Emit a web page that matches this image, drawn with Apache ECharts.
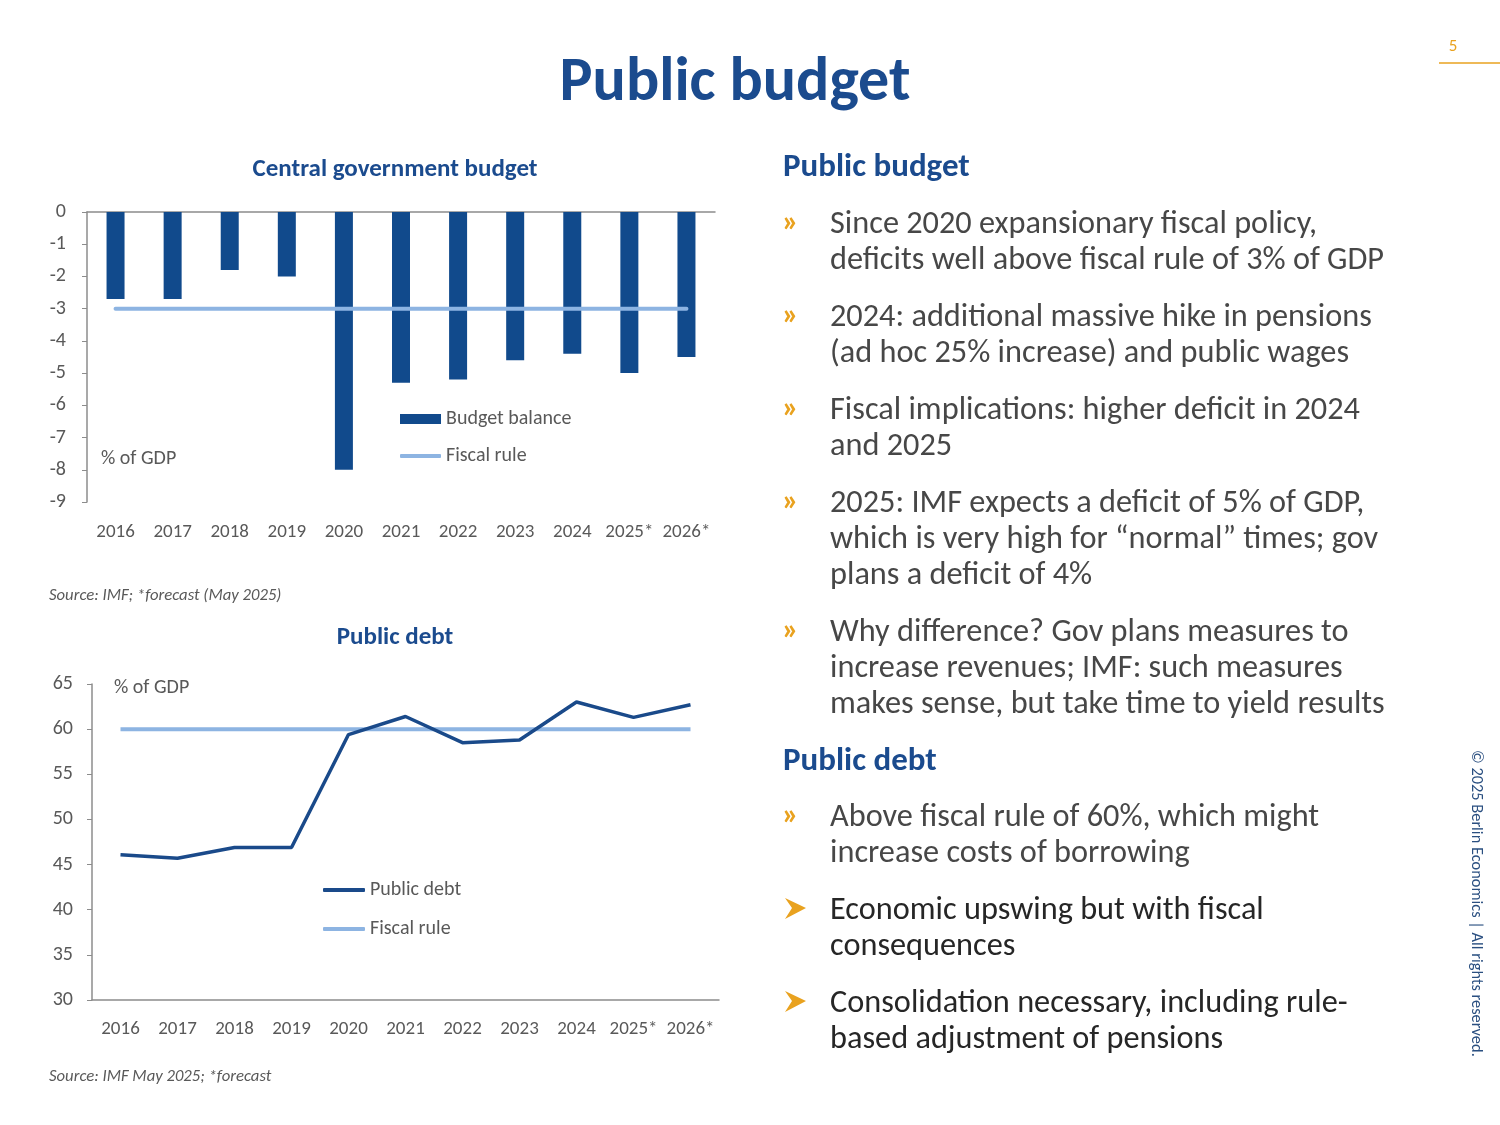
<!DOCTYPE html>
<html>
<head>
<meta charset="utf-8">
<script src="https://cdn.jsdelivr.net/npm/echarts@6/dist/echarts.min.js"></script>
<style>
html,body{margin:0;padding:0;background:#fff;}
#c{width:1500px;height:1125px;}
</style>
</head>
<body>
<div id="c"></div>
<script>
// ---- data ----
var years = ['2016','2017','2018','2019','2020','2021','2022','2023','2024','2025*','2026*'];
var budgetBalance = [-2.7,-2.7,-1.8,-2.0,-8.0,-5.3,-5.2,-4.6,-4.4,-5.0,-4.5];
var budgetRule = [-3,-3,-3,-3,-3,-3,-3,-3,-3,-3,-3];
var publicDebt = [46.1,45.7,46.9,46.9,59.4,61.4,58.5,58.8,63.0,61.3,62.7];
var debtRule = [60,60,60,60,60,60,60,60,60,60,60];

var FONT = 'Carlito, Lato, "Open Sans", sans-serif';
var BLUE = '#1b4b8e';
var BAR = '#114a8c';
var LIGHT = '#8db4e2';
var ORANGE = '#e9a21f';
var AXISTXT = '#595959';

var bullets = [
  {y:225, text:'Since 2020 expansionary fiscal policy,\ndeficits well above fiscal rule of 3% of GDP'},
  {y:318, text:'2024: additional massive hike in pensions\n(ad hoc 25% increase) and public wages'},
  {y:411, text:'Fiscal implications: higher deficit in 2024\nand 2025'},
  {y:504, text:'2025: IMF expects a deficit of 5% of GDP,\nwhich is very high for \u201cnormal\u201d times; gov\nplans a deficit of 4%'},
  {y:633, text:'Why difference? Gov plans measures to\nincrease revenues; IMF: such measures\nmakes sense, but take time to yield results'},
  {y:818, text:'Above fiscal rule of 60%, which might\nincrease costs of borrowing'}
];
var keyPoints = [
  {y:911, text:'Economic upswing but with fiscal\nconsequences'},
  {y:1004, text:'Consolidation necessary, including rule-\nbased adjustment of pensions'}
];

var graphics = [
  {type:'text', style:{text:'Public budget', x:735, y:84, fontSize:62, fontWeight:'bold', fontFamily:FONT, fill:BLUE, align:'center', verticalAlign:'middle'}},
  {type:'text', style:{text:'5', x:1453, y:47, fontSize:17, fontFamily:FONT, fill:ORANGE, align:'center', verticalAlign:'middle'}},
  {type:'line', shape:{x1:1439, y1:63, x2:1500, y2:63}, style:{stroke:ORANGE, lineWidth:1.5}},
  {type:'text', rotation:-Math.PI/2, x:1476, y:750, style:{text:'\u00a9 2025 Berlin Economics | All rights reserved.', x:0, y:0, fontSize:16.4, fontFamily:FONT, fill:'#2a4f80', align:'left', verticalAlign:'middle'}},
  {type:'text', style:{text:'Central government budget', x:395, y:170, fontSize:25, fontWeight:'bold', fontFamily:FONT, fill:BLUE, align:'center', verticalAlign:'middle'}},
  {type:'text', style:{text:'Public debt', x:395, y:638, fontSize:25, fontWeight:'bold', fontFamily:FONT, fill:BLUE, align:'center', verticalAlign:'middle'}},
  {type:'text', style:{text:'Source: IMF; *forecast (May 2025)', x:49, y:596, fontSize:16.7, fontStyle:'italic', fontFamily:FONT, fill:AXISTXT, align:'left', verticalAlign:'middle'}},
  {type:'text', style:{text:'Source: IMF May 2025; *forecast', x:49, y:1077, fontSize:16.7, fontStyle:'italic', fontFamily:FONT, fill:AXISTXT, align:'left', verticalAlign:'middle'}},
  {type:'text', style:{text:'% of GDP', x:101, y:459, fontSize:20, fontFamily:FONT, fill:AXISTXT, align:'left', verticalAlign:'middle'}},
  {type:'text', style:{text:'% of GDP', x:114, y:688, fontSize:20, fontFamily:FONT, fill:AXISTXT, align:'left', verticalAlign:'middle'}},
  {type:'text', style:{text:'Public budget', x:783, y:168, fontSize:33, fontWeight:'bold', fontFamily:FONT, fill:BLUE, align:'left', verticalAlign:'middle'}},
  {type:'text', style:{text:'Public debt', x:783, y:762, fontSize:33, fontWeight:'bold', fontFamily:FONT, fill:BLUE, align:'left', verticalAlign:'middle'}}
];
bullets.forEach(function(b){
  graphics.push({type:'text', style:{text:'\u00bb', x:782, y:b.y - 2, fontSize:31, fontWeight:'bold', fontFamily:FONT, fill:ORANGE, align:'left', verticalAlign:'middle'}});
  graphics.push({type:'text', style:{text:b.text, x:830, y:b.y - 18, fontSize:32.3, fontWeight:300, fontFamily:FONT, fill:'#474747', align:'left', verticalAlign:'top', lineHeight:36}});
});
keyPoints.forEach(function(b){
  graphics.push({type:'polygon', shape:{points:[[785,b.y-13],[806,b.y-3],[785,b.y+8],[792,b.y-3]]}, style:{fill:ORANGE}});
  graphics.push({type:'text', style:{text:b.text, x:830, y:b.y - 18, fontSize:32.3, fontFamily:FONT, fill:'#262626', align:'left', verticalAlign:'top', lineHeight:36}});
});

var axisLabel = {color:AXISTXT, fontSize:20, fontFamily:FONT};
var catLabel = {color:AXISTXT, fontSize:19, fontFamily:FONT, interval:0, hideOverlap:false};
var legendText = {color:AXISTXT, fontSize:20, fontFamily:FONT, lineHeight:20};
var option = {
  animation:false,
  backgroundColor:'#ffffff',
  graphic: graphics,
  grid:[
    {left:87, width:628, top:212, height:290},
    {left:92, width:627, top:684, height:316}
  ],
  legend:[
    {orient:'vertical', left:400, top:409, padding:0, itemWidth:41, itemHeight:10,
     data:[{name:'Budget balance', icon:'rect'}],
     textStyle:legendText, selectedMode:false},
    {orient:'vertical', left:400, top:446, padding:0, itemWidth:41, itemHeight:4,
     data:[{name:'Fiscal rule', icon:'roundRect'}],
     textStyle:legendText, selectedMode:false},
    {orient:'vertical', left:323, top:880, padding:0, itemWidth:42, itemHeight:4, itemGap:19,
     data:[{name:'Public debt', icon:'roundRect'}, {name:'Fiscal rule ', icon:'roundRect'}],
     textStyle:legendText, selectedMode:false}
  ],
  xAxis:[
    {type:'category', gridIndex:0, data:years, position:'bottom',
     axisLine:{show:false}, axisTick:{show:false}, axisLabel:Object.assign({margin:21}, catLabel)},
    {type:'category', gridIndex:0, data:years, position:'top',
     axisLine:{show:true, onZero:false, lineStyle:{color:'#8c8c8c', width:1.5}}, axisTick:{show:false}, axisLabel:{show:false}},
    {type:'category', gridIndex:1, data:years, position:'bottom',
     axisLine:{show:true, lineStyle:{color:'#8c8c8c', width:1.5}}, axisTick:{show:false}, axisLabel:Object.assign({margin:20}, catLabel)}
  ],
  yAxis:[
    {type:'value', gridIndex:0, min:-9, max:0, interval:1,
     axisLine:{show:true, lineStyle:{color:'#8c8c8c', width:1.5}}, axisTick:{show:true, length:5, lineStyle:{color:'#8c8c8c'}},
     splitLine:{show:false}, axisLabel:Object.assign({margin:21}, axisLabel)},
    {type:'value', gridIndex:1, min:30, max:65, interval:5,
     axisLine:{show:true, lineStyle:{color:'#8c8c8c', width:1.5}}, axisTick:{show:true, length:5, lineStyle:{color:'#8c8c8c'}},
     splitLine:{show:false}, axisLabel:Object.assign({margin:19}, axisLabel)}
  ],
  series:[
    {name:'Budget balance', type:'bar', xAxisIndex:0, yAxisIndex:0, data:budgetBalance, barWidth:18,
     itemStyle:{color:BAR}},
    {name:'Fiscal rule', type:'line', xAxisIndex:0, yAxisIndex:0, data:budgetRule, symbol:'none',
     lineStyle:{color:LIGHT, width:4, cap:'round'}, itemStyle:{color:LIGHT}, z:3},
    {name:'Public debt', type:'line', xAxisIndex:2, yAxisIndex:1, data:publicDebt, symbol:'none',
     lineStyle:{color:'#1a4a8a', width:3.5}, itemStyle:{color:'#1a4a8a'}, z:3},
    {name:'Fiscal rule ', type:'line', xAxisIndex:2, yAxisIndex:1, data:debtRule, symbol:'none',
     lineStyle:{color:LIGHT, width:4}, itemStyle:{color:LIGHT}, z:2}
  ]
};
var chart = echarts.init(document.getElementById('c'));
chart.setOption(option);
</script>
</body>
</html>
